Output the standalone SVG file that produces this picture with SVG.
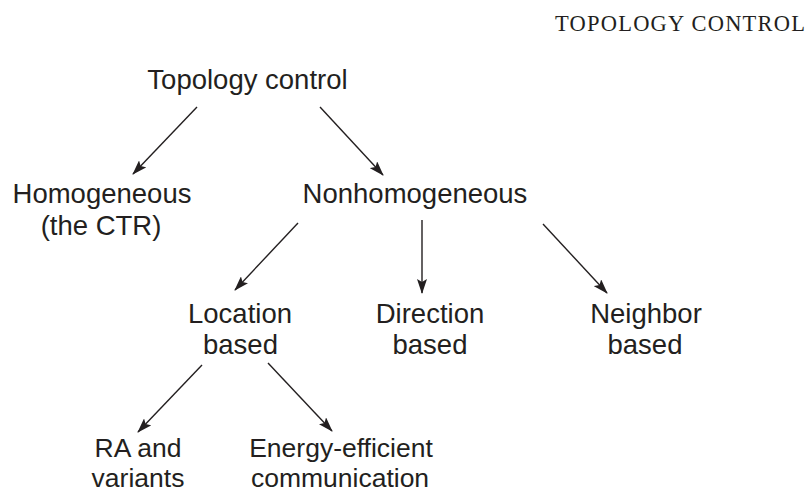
<svg xmlns="http://www.w3.org/2000/svg" width="809" height="493" viewBox="0 0 809 493">
<style>
.t{font-family:"Liberation Sans",Arial,sans-serif;font-size:27.5px;fill:#231f20;text-anchor:middle}
.s{font-size:26.5px}
.h{font-family:"Liberation Serif","Times New Roman",serif;font-size:22.5px;fill:#231f20}
.c{stroke:#231f20;stroke-width:1.4;fill:none;marker-end:url(#a)}
</style>
<defs>
<marker id="a" viewBox="0 0 15 10" refX="14" refY="5" markerWidth="15" markerHeight="10" markerUnits="userSpaceOnUse" orient="auto">
<path d="M0,0 L15,5 L0,10 L3,5 Z" fill="#231f20"/>
</marker>
</defs>
<rect width="809" height="493" fill="#fff"/>
<text class="h" x="555" y="30.5" textLength="250" lengthAdjust="spacing">TOPOLOGY CONTROL</text>
<g id="connectors">
<line class="c" x1="197" y1="107" x2="133" y2="174"/>
<line class="c" x1="320" y1="107" x2="383" y2="175"/>
<line class="c" x1="298" y1="223" x2="235" y2="290"/>
<line class="c" x1="422" y1="220" x2="422" y2="293"/>
<line class="c" x1="543" y1="224" x2="607" y2="293"/>
<line class="c" x1="202" y1="365" x2="138" y2="432"/>
<line class="c" x1="268" y1="363" x2="332" y2="431"/>
</g>
<g id="topology-control"><text class="t" x="247.5" y="89">Topology control</text></g>
<g id="homogeneous"><text class="t" x="102" y="203">Homogeneous</text><text class="t" x="101" y="235">(the CTR)</text></g>
<g id="nonhomogeneous"><text class="t" x="415" y="203">Nonhomogeneous</text></g>
<g id="location-based"><text class="t" x="240" y="323">Location</text><text class="t" x="240.5" y="354">based</text></g>
<g id="direction-based"><text class="t" x="430" y="323">Direction</text><text class="t" x="430" y="354">based</text></g>
<g id="neighbor-based"><text class="t" x="646" y="323">Neighbor</text><text class="t" x="645" y="354">based</text></g>
<g id="ra-variants"><text class="t s" x="138" y="457">RA and</text><text class="t s" x="138" y="487">variants</text></g>
<g id="energy-efficient"><text class="t s" x="341" y="457">Energy-efficient</text><text class="t s" x="340" y="487">communication</text></g>
</svg>
